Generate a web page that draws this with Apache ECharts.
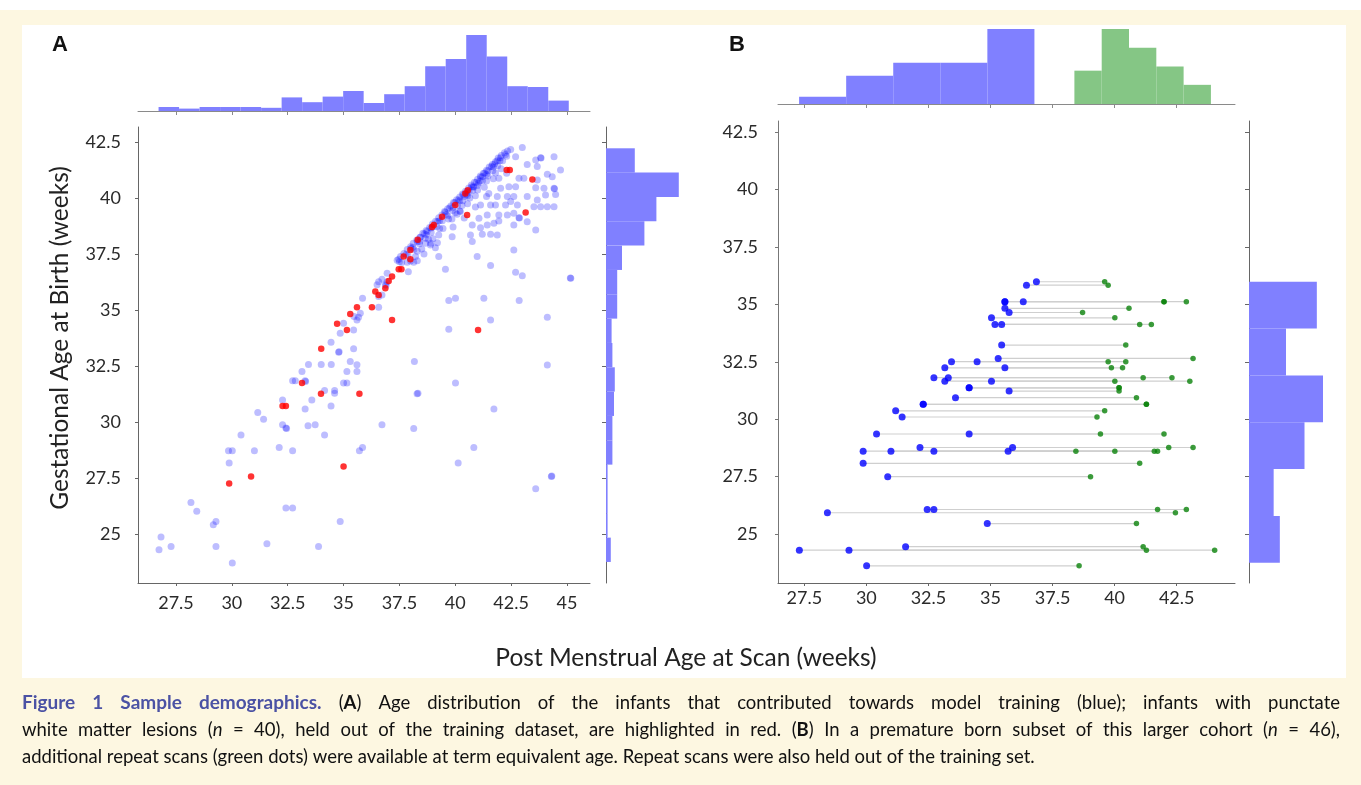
<!DOCTYPE html>
<html>
<head>
<meta charset="utf-8">
<script src="https://cdn.jsdelivr.net/npm/echarts@6/dist/echarts.min.js"></script>
<style>
html,body{margin:0;padding:0;background:#fff;}
#wrap{position:relative;width:1361px;height:785px;background:#fff;overflow:hidden;}
#cream{position:absolute;left:0;top:10px;width:1361px;height:775px;background:#fdf7e1;}
#panel{position:absolute;left:22px;top:25px;width:1324px;height:653px;background:#fff;}
#chart{position:absolute;left:0;top:0;width:1361px;height:785px;}
</style>
</head>
<body>
<div id="wrap">
  <div id="cream"></div>
  <div id="panel"></div>
  <div id="chart"></div>
</div>
<script>
// tick labels
var ticksAX = [27.5, 30, 32.5, 35, 37.5, 40, 42.5, 45];
var ticksAY = [25, 27.5, 30, 32.5, 35, 37.5, 40, 42.5];
var ticksBX = [27.5, 30, 32.5, 35, 37.5, 40, 42.5];
var ticksBY = [25, 27.5, 30, 32.5, 35, 37.5, 40, 42.5];

// panel A : [post menstrual age at scan, gestational age at birth]
var blueA = [
  [33.14,32.25],[32.72,31.83],[32.84,31.83],[33.28,31.83],[33.30,31.80],[35.15,32.25],[35.60,32.25],
  [34.15,31.40],[34.60,31.40],[34.60,31.28],[35.00,31.73],[35.15,31.73],[32.27,30.98],[33.58,30.98],
  [34.44,30.71],[33.28,30.57],[31.16,30.42],[31.42,30.12],[32.27,29.87],[32.42,29.72],[32.45,29.70],
  [33.41,29.82],[33.73,29.87],[30.41,29.41],[34.15,29.41],[29.85,28.71],[30.02,28.71],[31.01,28.71],
  [32.12,28.85],[32.72,28.71],[35.71,28.71],[35.85,28.85],[29.88,28.16],[36.72,29.87],[38.14,29.70],
  [38.29,31.25],[38.33,31.28],[40.01,31.73],[41.73,30.57],[40.83,28.85],[40.13,28.16],[44.30,27.56],
  [44.32,27.58],[43.60,27.01],[28.17,26.40],[28.43,26.00],[32.42,26.15],[32.72,26.15],[29.17,25.40],
  [29.29,25.55],[34.85,25.55],[26.83,24.85],[26.74,24.29],[27.28,24.43],[29.29,24.43],[31.57,24.55],
  [33.88,24.43],[30.02,23.69],
  [38.74,38.50],[38.44,38.25],[38.67,37.98],[38.90,37.98],[37.47,37.26],[37.85,37.13],[38.14,37.13],
  [38.22,37.38],[36.95,36.64],[36.57,36.26],[36.72,36.37],[36.87,36.12],[36.90,36.10],[36.95,36.26],
  [36.72,35.67],[35.85,35.52],[36.57,35.12],[35.75,34.85],[35.67,34.67],[35.00,34.40],[34.85,33.96],
  [35.45,34.10],[34.44,33.56],[35.45,33.26],[34.78,33.11],[34.80,33.13],[33.43,32.56],[34.00,32.56],
  [34.45,32.56],[35.30,32.69],[38.17,32.69],[35.60,34.55],[35.47,34.70],[36.57,35.60],[36.50,36.12],
  [35.60,32.55],
  [39.26,37.38],[39.56,36.82],[41.58,36.98],[42.70,36.68],[43.00,36.53],[45.17,36.41],[45.15,36.43],
  [39.71,35.42],[40.01,35.52],[41.28,35.52],[42.86,35.42],[41.58,34.55],[44.12,34.67],[39.71,34.14],
  [44.12,32.54],
  [43.00,42.25],[42.70,41.84],[43.22,41.50],[43.60,41.70],[43.82,41.80],[43.84,41.78],[43.67,41.40],
  [44.42,41.84],[42.85,40.88],[43.07,40.88],[44.12,41.06],[44.34,40.95],[44.71,41.25],[41.95,40.88],
  [42.03,40.43],[42.40,40.50],[42.70,40.50],[41.88,40.06],[42.33,40.06],[42.62,40.06],[43.22,40.06],
  [43.60,40.46],[43.97,40.43],[44.42,40.43],[44.44,40.41],[43.67,40.80],[44.04,40.13],[44.49,40.16],
  [41.40,40.06],[41.58,39.69],[41.13,39.69],[41.80,39.69],[42.25,39.69],[42.48,39.84],[42.78,39.69],
  [41.95,39.24],[42.33,39.24],[42.62,39.32],[43.52,39.61],[43.82,39.61],[44.12,39.61],[44.42,39.61],
  [43.67,39.91],[41.43,39.24],[41.06,39.09],[41.73,38.87],[41.43,38.79],[41.13,38.67],[40.76,38.79],
  [41.21,38.38],[41.58,38.38],[41.88,38.35],[41.95,38.97],[42.85,39.12],[42.87,39.10],[43.22,38.94],
  [43.60,38.57],[42.62,38.79],[40.68,38.35],[40.76,38.05],[40.08,39.27],[40.23,39.39],[42.62,37.68],
  [40.98,37.38],[39.26,38.35],[39.11,37.78],[38.89,37.90],[39.86,38.27],
  // band of infants scanned shortly after birth
  [37.40,37.22],[37.55,37.38],[37.70,37.52],[37.85,37.70],[38.00,37.82],[38.12,37.98],[38.28,38.12],
  [38.42,38.25],[38.55,38.42],[38.70,38.55],[38.85,38.68],[38.98,38.84],[39.12,38.96],[39.26,39.12],
  [39.40,39.24],[39.52,39.40],[39.66,39.52],[39.80,39.64],[39.92,39.80],[40.06,39.92],[40.20,40.04],
  [40.32,40.18],[40.46,40.30],[40.60,40.44],[40.72,40.58],[40.86,40.70],[41.00,40.84],[41.12,40.98],
  [41.26,41.10],[41.40,41.24],[41.52,41.38],[41.66,41.50],[41.80,41.62],[41.92,41.78],[42.06,41.90],
  [42.20,42.02],[42.34,42.10],[42.48,42.16],
  [37.50,37.15],[37.80,37.48],[38.10,37.80],[38.40,38.06],[38.70,38.36],[39.00,38.70],[39.30,38.98],
  [39.60,39.26],[39.90,39.58],[40.20,39.88],[40.50,40.16],[40.80,40.50],[41.10,40.76],[41.40,41.06],
  [41.70,41.38],[42.00,41.66],[42.25,41.94],
  [37.60,37.12],[37.88,37.42],[38.15,37.70],[38.40,37.96],[38.66,38.20],[38.92,38.46],[39.18,38.72],
  [39.42,38.98],[39.66,39.20],[39.88,39.44],[40.10,39.66],[40.34,39.88],[40.56,40.10],[40.78,40.34],
  [41.00,40.56],[41.22,40.78],[41.46,40.98],[41.68,41.22],[41.90,41.44],[42.12,41.66],[42.30,41.86],
  [38.30,37.62],[38.80,38.16],[39.30,38.64],[39.70,39.06],[40.00,39.34],[40.30,39.66],[40.65,40.00],
  [41.00,40.36],[41.40,40.76],[41.80,41.12],
  [38.00,37.18],[38.50,37.72],[39.00,38.18],[39.45,38.64],[39.85,39.06],[40.20,39.42],[40.55,39.74],
  [40.90,40.10],[41.30,40.48],[41.70,40.86],[42.05,41.30],
  [38.60,37.50],[39.20,38.00],[39.90,38.70],[40.40,39.10],[40.90,39.60],[41.50,40.20],[42.30,41.10],
  [37.90,36.70],[38.30,37.20],
  [39.55,39.36],[39.74,39.55],[39.98,39.80],[40.14,39.92],[40.36,40.14],[40.54,40.30],[40.74,40.50],
  [40.94,40.70],[41.14,40.92],[41.32,41.12],[41.46,41.22],[41.62,41.40],[41.76,41.52],[41.88,41.66],
  [42.02,41.80],[40.42,40.06],[40.62,40.26],[40.82,40.48],[41.04,40.66],[41.22,40.96],[39.22,38.96],
  [38.92,38.66],[38.62,38.40],[38.30,38.04],[38.02,37.74]
];
var redA = [
  [33.14,31.73],[32.27,30.71],[32.42,30.71],[33.99,31.25],[35.71,31.25],[29.88,27.25],[30.86,27.56],
  [35.00,28.00],[38.32,38.13],[37.99,37.68],[37.69,37.38],[37.99,37.26],[37.47,36.82],[37.59,36.82],
  [37.17,36.49],[37.02,36.29],[36.87,35.97],[36.42,35.82],[36.57,35.67],[35.60,35.12],[36.27,35.12],
  [35.30,34.82],[34.71,34.38],[35.15,34.10],[37.17,34.55],[34.00,33.26],[40.56,40.35],[40.45,40.20],
  [40.00,39.69],[39.41,39.16],[39.04,38.79],[38.96,38.70],[42.30,41.25],[42.44,41.25],[43.45,40.83],
  [43.15,39.35],[40.53,39.24],[41.02,34.10]
];
// panel A histograms
var topHistAStart = 26.72, topHistABin = 0.918;
var topHistA = [5, 3, 5, 5, 5, 4, 17, 11, 18, 25, 10, 21, 31, 56, 65, 95, 68, 31, 30, 13];
var rightHistAStart = 23.74, rightHistABin = 1.087;
var rightHistA = [6, 2, 2, 2, 8, 8, 10, 11, 8, 7, 14, 14, 20, 48, 63, 91, 36];

// panel B : one row per infant, first scan (blue) and repeat scan (green)
var gaB = [35.99,35.84,35.12,35.12,34.83,34.65,34.42,34.13,34.13,33.23,32.65,32.51,32.51,32.24,32.24,
  31.81,31.81,31.66,31.66,31.37,31.23,30.94,30.65,30.37,30.10,29.36,29.36,28.77,28.77,28.61,28.61,
  28.61,28.61,28.08,27.50,26.07,26.07,25.93,25.46,24.45,24.30,24.30,23.62,30.65,31.37,35.12];
var pmaFirstB = [36.85,36.45,35.58,36.32,35.58,35.75,35.04,35.18,35.45,35.45,35.31,33.43,34.46,33.16,35.58,
  32.72,33.30,33.16,35.04,34.14,35.75,33.59,32.29,31.18,31.44,30.41,34.14,32.16,35.89,29.87,30.99,
  32.72,35.71,29.87,30.86,32.45,32.72,28.43,34.87,31.58,27.30,29.30,30.01,32.29,34.14,35.58];
var pmaRepeatB = [39.60,39.74,41.99,42.89,40.58,38.71,40.01,41.01,41.48,40.45,43.16,39.74,40.45,39.87,40.32,
  41.15,42.31,43.03,40.01,40.18,40.18,40.88,41.28,39.60,39.29,39.43,41.99,43.16,42.18,41.73,40.01,
  38.44,41.60,41.01,39.03,41.73,42.89,42.45,40.88,41.15,44.03,41.28,38.57,41.28,40.18,41.99];
// panel B histograms
var topHistBFirstStart = 27.29, topHistBFirstBin = 1.896;
var topHistBFirst = [1.75, 6.8, 9.9, 9.9, 18];
var topHistBRepeatStart = 38.38, topHistBRepeatBin = 1.1;
var topHistBRepeat = [8, 18, 13.5, 9, 4.6];
var rightHistBStart = 23.75, rightHistBBin = 2.04;
var rightHistB = [5, 4, 9, 12, 6, 11];

var caption = [
  '{h|Figure} {h|1}  {h|Sample} {h|demographics.} ({b|A}) Age distribution of the infants that contributed towards model training (blue); infants with punctate',
  'white matter lesions ({i|n} = 40), held out of the training dataset, are highlighted in red. ({b|B}) In a premature born subset of this larger cohort ({i|n} = 46),',
  'additional repeat scans (green dots) were available at term equivalent age. Repeat scans were also held out of the training set.'
];

function histItems(start, bin, counts) {
  var out = [];
  for (var i = 0; i < counts.length; i++) {
    out.push([start + i * bin, start + (i + 1) * bin, counts[i]]);
  }
  return out;
}

function vBar(params, api) {
  var p0 = api.coord([api.value(0), api.value(2)]);
  var p1 = api.coord([api.value(1), 0]);
  return {type: 'rect', shape: {x: p0[0], y: p0[1], width: p1[0] - p0[0], height: p1[1] - p0[1]},
    style: {fill: api.visual('color')}};
}
function hBar(params, api) {
  var p0 = api.coord([api.value(2), api.value(1)]);
  var p1 = api.coord([0, api.value(0)]);
  return {type: 'rect', shape: {x: p1[0], y: p0[1], width: p0[0] - p1[0], height: p1[1] - p0[1]},
    style: {fill: api.visual('color')}};
}
function pairLine(params, api) {
  var p0 = api.coord([api.value(0), api.value(2)]);
  var p1 = api.coord([api.value(1), api.value(2)]);
  return {type: 'line', shape: {x1: p0[0], y1: p0[1], x2: p1[0], y2: p1[1]},
    style: {stroke: '#cfcfcf', lineWidth: 1.2}};
}

function dataAxis(grid, min, max, ticks, labels, margin, color) {
  return {
    type: 'value', gridIndex: grid, min: min, max: max,
    axisLine: {show: true, onZero: false, lineStyle: {color: color, width: 1}},
    axisTick: {show: true, customValues: ticks, length: labels ? 3 : 4, lineStyle: {color: color}},
    axisLabel: {show: labels, customValues: ticks, fontSize: 18, fontFamily: 'Lato', color: '#2a2a2a', margin: margin},
    splitLine: {show: false}
  };
}
function countAxis(grid, max) {
  return {type: 'value', gridIndex: grid, min: 0, max: max, show: false, splitLine: {show: false}};
}

var pairsB = [], blueB = [], greenB = [];
for (var i = 0; i < gaB.length; i++) {
  pairsB.push([pmaFirstB[i], pmaRepeatB[i], gaB[i]]);
  blueB.push([pmaFirstB[i], gaB[i]]);
  greenB.push([pmaRepeatB[i], gaB[i]]);
}

// caption words, justified on the first two lines
var rich = {
  h: {fill: '#4b52a4', fontWeight: 'bold', fontSize: 19, fontFamily: 'Lato'},
  b: {fill: '#111', fontWeight: 'bold', fontSize: 18.5, fontFamily: 'Lato'},
  i: {fill: '#111', fontStyle: 'italic', fontSize: 18.5, fontFamily: 'Lato'}
};
var fonts = {n: '18.5px Lato', h: 'bold 19px Lato', b: 'bold 18.5px Lato', i: 'italic 18.5px Lato'};
var ctx = document.createElement('canvas').getContext('2d');
function measure(word) {
  var w = 0, re = /\{(\w)\|([^}]*)\}/g, last = 0, m;
  while ((m = re.exec(word)) !== null) {
    ctx.font = fonts.n; w += ctx.measureText(word.slice(last, m.index)).width;
    ctx.font = fonts[m[1]]; w += ctx.measureText(m[2]).width;
    last = re.lastIndex;
  }
  ctx.font = fonts.n; w += ctx.measureText(word.slice(last)).width;
  return w;
}
var captionEls = [];
var lineY = [703, 730, 757];
for (var l = 0; l < caption.length; l++) {
  var words = caption[l].split(' ').filter(function (s) { return s.length > 0; });
  var widths = words.map(measure);
  var total = widths.reduce(function (a, b) { return a + b; }, 0);
  ctx.font = fonts.n;
  var gap = l < 2 ? (1318 - total) / (words.length - 1) : ctx.measureText(' ').width;
  var x = 22;
  for (var k = 0; k < words.length; k++) {
    captionEls.push({type: 'text', x: x, y: lineY[l], silent: true,
      style: {text: words[k], rich: rich, fill: '#111', fontSize: 18.5, fontFamily: 'Lato', verticalAlign: 'middle'}});
    x += widths[k] + gap;
  }
}

var chart = echarts.init(document.getElementById('chart'));
var option = {
  animation: false,
  grid: [
    {left: 138, top: 127, width: 452, height: 456},
    {left: 138, top: 35, width: 452, height: 76},
    {left: 606, top: 127, width: 80, height: 456},
    {left: 778, top: 121, width: 457, height: 462},
    {left: 778, top: 29, width: 457, height: 75},
    {left: 1249, top: 121, width: 74, height: 462}
  ],
  xAxis: [
    dataAxis(0, 25.8, 46.03, ticksAX, true, 11, '#666'),
    dataAxis(1, 25.8, 46.03, ticksAX, false, 0, '#8a8a8a'),
    countAxis(2, 100),
    dataAxis(3, 26.44, 44.85, ticksBX, true, 6, '#666'),
    dataAxis(4, 26.44, 44.85, ticksBX, false, 0, '#8a8a8a'),
    countAxis(5, 12)
  ],
  yAxis: [
    dataAxis(0, 22.8, 43.17, ticksAY, true, 17, '#666'),
    countAxis(1, 95),
    dataAxis(2, 22.8, 43.17, ticksAY, false, 0, '#666'),
    dataAxis(3, 22.87, 42.99, ticksBY, true, 20, '#777'),
    countAxis(4, 18),
    dataAxis(5, 22.87, 42.99, ticksBY, false, 0, '#666')
  ],
  series: [
    {type: 'scatter', xAxisIndex: 0, yAxisIndex: 0, data: blueA, symbolSize: 7, silent: true,
      itemStyle: {color: 'rgba(0,0,255,0.32)'}},
    {type: 'scatter', xAxisIndex: 0, yAxisIndex: 0, data: redA, symbolSize: 6.5, silent: true,
      itemStyle: {color: '#ff0000'}, z: 3},
    {type: 'custom', xAxisIndex: 1, yAxisIndex: 1, data: histItems(topHistAStart, topHistABin, topHistA),
      encode: {x: [0, 1], y: 2}, renderItem: vBar, itemStyle: {color: '#8080ff'}, silent: true},
    {type: 'custom', xAxisIndex: 2, yAxisIndex: 2, data: histItems(rightHistAStart, rightHistABin, rightHistA),
      encode: {x: 2, y: [0, 1]}, renderItem: hBar, itemStyle: {color: '#8080ff'}, silent: true},
    {type: 'custom', xAxisIndex: 3, yAxisIndex: 3, data: pairsB, encode: {x: [0, 1], y: 2},
      renderItem: pairLine, silent: true},
    {type: 'scatter', xAxisIndex: 3, yAxisIndex: 3, data: blueB, symbolSize: 7, silent: true,
      itemStyle: {color: '#0000ff'}, z: 3},
    {type: 'scatter', xAxisIndex: 3, yAxisIndex: 3, data: greenB, symbolSize: 5.5, silent: true,
      itemStyle: {color: '#0a820a'}, z: 3},
    {type: 'custom', xAxisIndex: 4, yAxisIndex: 4, data: histItems(topHistBFirstStart, topHistBFirstBin, topHistBFirst),
      encode: {x: [0, 1], y: 2}, renderItem: vBar, itemStyle: {color: '#8080ff'}, silent: true},
    {type: 'custom', xAxisIndex: 4, yAxisIndex: 4, data: histItems(topHistBRepeatStart, topHistBRepeatBin, topHistBRepeat),
      encode: {x: [0, 1], y: 2}, renderItem: vBar, itemStyle: {color: '#85c685'}, silent: true},
    {type: 'custom', xAxisIndex: 5, yAxisIndex: 5, data: histItems(rightHistBStart, rightHistBBin, rightHistB),
      encode: {x: 2, y: [0, 1]}, renderItem: hBar, itemStyle: {color: '#8080ff'}, silent: true}
  ],
  graphic: {elements: [
    {type: 'text', x: 60, y: 45, style: {text: 'A', fontSize: 22, fontWeight: 'bold', fontFamily: 'Liberation Sans',
      fill: '#111', align: 'center', verticalAlign: 'middle'}},
    {type: 'text', x: 737, y: 45, style: {text: 'B', fontSize: 22, fontWeight: 'bold', fontFamily: 'Liberation Sans',
      fill: '#111', align: 'center', verticalAlign: 'middle'}},
    {type: 'text', x: 60, y: 338, rotation: Math.PI / 2, style: {text: 'Gestational Age at Birth (weeks)',
      fontSize: 24.5, fontFamily: 'Lato', fill: '#222', align: 'center', verticalAlign: 'middle'}},
    {type: 'text', x: 686, y: 658, style: {text: 'Post Menstrual Age at Scan (weeks)',
      fontSize: 24.5, fontFamily: 'Lato', fill: '#222', align: 'center', verticalAlign: 'middle'}}
  ].concat(captionEls)}
};
chart.setOption(option);
</script>
</body>
</html>
